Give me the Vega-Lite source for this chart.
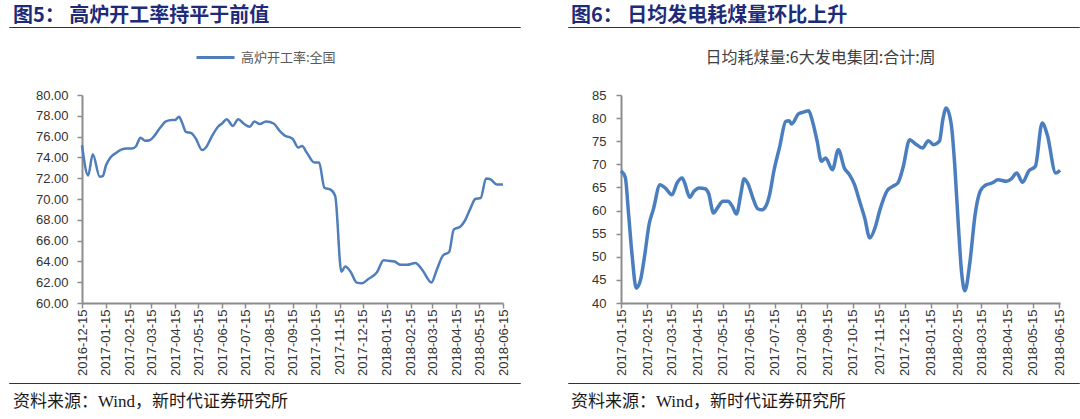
{
  "$schema": "https://vega.github.io/schema/vega-lite/v6.json",
  "padding": {"left": 8, "top": 5, "right": 0, "bottom": 0},
  "background": "white",
  "config": {
    "view": {"stroke": null},
    "font": "Noto Sans CJK SC",
    "axis": {"labelFont": "Liberation Sans", "labelFontSize": 13, "labelColor": "#333333", "domainColor": "#8c8c8c", "domainWidth": 2, "tickColor": "#8c8c8c", "tickWidth": 1.5, "tickSize": 5, "grid": false, "title": null}
  },
  "datasets": {
    "bf": [
      {"date": "2016-12-15", "value": 75.17}, {"date": "2016-12-23", "value": 72.27}, {"date": "2016-12-29", "value": 74.3},
      {"date": "2017-01-07", "value": 72.15}, {"date": "2017-01-11", "value": 72.2}, {"date": "2017-01-15", "value": 73.2},
      {"date": "2017-01-21", "value": 74.0}, {"date": "2017-01-27", "value": 74.37}, {"date": "2017-02-04", "value": 74.75},
      {"date": "2017-02-11", "value": 74.85}, {"date": "2017-02-18", "value": 74.85}, {"date": "2017-02-23", "value": 75.05},
      {"date": "2017-03-01", "value": 75.9}, {"date": "2017-03-07", "value": 75.6}, {"date": "2017-03-13", "value": 75.65},
      {"date": "2017-03-19", "value": 76.07}, {"date": "2017-03-27", "value": 76.9}, {"date": "2017-04-03", "value": 77.46},
      {"date": "2017-04-11", "value": 77.6}, {"date": "2017-04-15", "value": 77.6}, {"date": "2017-04-20", "value": 77.9},
      {"date": "2017-04-24", "value": 77.36}, {"date": "2017-04-29", "value": 76.45}, {"date": "2017-05-06", "value": 76.33},
      {"date": "2017-05-12", "value": 75.8}, {"date": "2017-05-20", "value": 74.7}, {"date": "2017-05-25", "value": 74.95},
      {"date": "2017-06-02", "value": 76.07}, {"date": "2017-06-10", "value": 76.97}, {"date": "2017-06-15", "value": 77.26},
      {"date": "2017-06-21", "value": 77.68}, {"date": "2017-06-29", "value": 77.03}, {"date": "2017-07-06", "value": 77.68},
      {"date": "2017-07-13", "value": 77.26}, {"date": "2017-07-21", "value": 76.94}, {"date": "2017-07-27", "value": 77.46},
      {"date": "2017-08-03", "value": 77.2}, {"date": "2017-08-11", "value": 77.46}, {"date": "2017-08-21", "value": 77.26},
      {"date": "2017-08-30", "value": 76.45}, {"date": "2017-09-05", "value": 76.07}, {"date": "2017-09-12", "value": 75.9},
      {"date": "2017-09-15", "value": 75.75}, {"date": "2017-09-22", "value": 74.95}, {"date": "2017-09-27", "value": 75.1},
      {"date": "2017-10-03", "value": 74.46}, {"date": "2017-10-13", "value": 73.5}, {"date": "2017-10-19", "value": 73.5},
      {"date": "2017-10-26", "value": 71.08}, {"date": "2017-11-03", "value": 70.9}, {"date": "2017-11-09", "value": 70.27},
      {"date": "2017-11-17", "value": 63.0}, {"date": "2017-11-22", "value": 63.5}, {"date": "2017-11-29", "value": 63.0},
      {"date": "2017-12-07", "value": 61.96}, {"date": "2017-12-14", "value": 61.9}, {"date": "2017-12-22", "value": 62.3},
      {"date": "2018-01-02", "value": 62.93}, {"date": "2018-01-11", "value": 64.1}, {"date": "2018-01-17", "value": 64.06},
      {"date": "2018-01-25", "value": 63.99}, {"date": "2018-02-02", "value": 63.67}, {"date": "2018-02-10", "value": 63.67},
      {"date": "2018-02-21", "value": 63.84}, {"date": "2018-03-02", "value": 63.2}, {"date": "2018-03-14", "value": 61.97},
      {"date": "2018-03-21", "value": 63.2}, {"date": "2018-03-29", "value": 64.57}, {"date": "2018-04-06", "value": 64.9},
      {"date": "2018-04-12", "value": 67.05}, {"date": "2018-04-21", "value": 67.37}, {"date": "2018-04-26", "value": 67.86},
      {"date": "2018-05-04", "value": 69.15}, {"date": "2018-05-10", "value": 70.0}, {"date": "2018-05-17", "value": 70.1},
      {"date": "2018-05-24", "value": 71.98}, {"date": "2018-05-30", "value": 71.88}, {"date": "2018-06-07", "value": 71.4},
      {"date": "2018-06-15", "value": 71.4}
    ],
    "coal": [
      {"date": "2017-01-15", "value": 68.6}, {"date": "2017-01-20", "value": 67.2}, {"date": "2017-01-24", "value": 59.1},
      {"date": "2017-01-28", "value": 50.45}, {"date": "2017-02-02", "value": 43.2}, {"date": "2017-02-07", "value": 45.0},
      {"date": "2017-02-12", "value": 50.45}, {"date": "2017-02-17", "value": 56.94}, {"date": "2017-02-22", "value": 60.2},
      {"date": "2017-03-02", "value": 65.6}, {"date": "2017-03-08", "value": 64.9}, {"date": "2017-03-16", "value": 63.4},
      {"date": "2017-03-22", "value": 65.96}, {"date": "2017-03-28", "value": 67.04}, {"date": "2017-03-31", "value": 65.96},
      {"date": "2017-04-06", "value": 62.87}, {"date": "2017-04-11", "value": 64.17}, {"date": "2017-04-17", "value": 64.88},
      {"date": "2017-04-24", "value": 64.73}, {"date": "2017-04-28", "value": 63.8}, {"date": "2017-05-04", "value": 59.47},
      {"date": "2017-05-09", "value": 60.7}, {"date": "2017-05-15", "value": 62.0}, {"date": "2017-05-21", "value": 62.0},
      {"date": "2017-05-26", "value": 60.92}, {"date": "2017-05-31", "value": 59.25}, {"date": "2017-06-05", "value": 63.43},
      {"date": "2017-06-09", "value": 66.9}, {"date": "2017-06-14", "value": 65.6}, {"date": "2017-06-20", "value": 62.35},
      {"date": "2017-06-25", "value": 60.4}, {"date": "2017-06-30", "value": 60.18}, {"date": "2017-07-05", "value": 61.1},
      {"date": "2017-07-09", "value": 63.43}, {"date": "2017-07-14", "value": 68.5}, {"date": "2017-07-21", "value": 73.9},
      {"date": "2017-07-28", "value": 79.3}, {"date": "2017-08-01", "value": 79.44}, {"date": "2017-08-04", "value": 78.73},
      {"date": "2017-08-12", "value": 80.9}, {"date": "2017-08-18", "value": 81.3}, {"date": "2017-08-24", "value": 81.6},
      {"date": "2017-08-28", "value": 79.66}, {"date": "2017-09-03", "value": 75.0}, {"date": "2017-09-08", "value": 70.65},
      {"date": "2017-09-13", "value": 71.37}, {"date": "2017-09-21", "value": 68.84}, {"date": "2017-09-28", "value": 73.17},
      {"date": "2017-10-05", "value": 69.2}, {"date": "2017-10-11", "value": 67.76}, {"date": "2017-10-17", "value": 65.6},
      {"date": "2017-10-23", "value": 62.0}, {"date": "2017-10-29", "value": 58.4}, {"date": "2017-11-04", "value": 54.06},
      {"date": "2017-11-10", "value": 56.2}, {"date": "2017-11-16", "value": 60.2}, {"date": "2017-11-24", "value": 64.17},
      {"date": "2017-12-01", "value": 65.25}, {"date": "2017-12-07", "value": 65.96}, {"date": "2017-12-13", "value": 69.2},
      {"date": "2017-12-21", "value": 75.33}, {"date": "2017-12-28", "value": 74.4}, {"date": "2018-01-05", "value": 73.53},
      {"date": "2018-01-12", "value": 75.1}, {"date": "2018-01-18", "value": 74.25}, {"date": "2018-01-25", "value": 75.0},
      {"date": "2018-01-29", "value": 79.66}, {"date": "2018-02-02", "value": 82.19}, {"date": "2018-02-08", "value": 78.57},
      {"date": "2018-02-12", "value": 69.92}, {"date": "2018-02-16", "value": 57.67}, {"date": "2018-02-20", "value": 46.85},
      {"date": "2018-02-24", "value": 42.66}, {"date": "2018-03-02", "value": 49.0}, {"date": "2018-03-08", "value": 59.1},
      {"date": "2018-03-14", "value": 64.17}, {"date": "2018-03-20", "value": 65.46}, {"date": "2018-03-28", "value": 65.96},
      {"date": "2018-04-04", "value": 66.67}, {"date": "2018-04-14", "value": 66.33}, {"date": "2018-04-20", "value": 66.9},
      {"date": "2018-04-26", "value": 68.1}, {"date": "2018-05-03", "value": 66.1}, {"date": "2018-05-10", "value": 68.5},
      {"date": "2018-05-18", "value": 69.57}, {"date": "2018-05-26", "value": 78.94}, {"date": "2018-06-01", "value": 76.4},
      {"date": "2018-06-11", "value": 68.1}, {"date": "2018-06-16", "value": 68.7}
    ]
  },
  "spacing": 4,
  "resolve": {"scale": {"color": "independent"}, "legend": {"color": "independent"}},
  "vconcat": [
    {
      "spacing": 46,
      "hconcat": [
        {
          "width": 511, "height": 0.01,
          "view": {"stroke": "#333333", "strokeWidth": 1},
          "title": {"text": "图5： 高炉开工率持平于前值", "anchor": "start", "orient": "top", "offset": -5, "dx": 4, "fontSize": 20, "fontWeight": "bold", "color": "#1E2B78", "font": "Noto Sans CJK SC"},
          "data": {"values": [{}]},
          "mark": {"type": "text"},
          "encoding": {"text": {"value": ""}}
        },
        {
          "width": 511, "height": 0.01,
          "view": {"stroke": "#333333", "strokeWidth": 1},
          "title": {"text": "图6： 日均发电耗煤量环比上升", "anchor": "start", "orient": "top", "offset": -5, "dx": 3, "fontSize": 20, "fontWeight": "bold", "color": "#1E2B78", "font": "Noto Sans CJK SC"},
          "data": {"values": [{}]},
          "mark": {"type": "text"},
          "encoding": {"text": {"value": ""}}
        }
      ]
    },
    {
      "spacing": 0,
      "resolve": {"scale": {"color": "independent"}, "legend": {"color": "independent"}},
      "vconcat": [
        {
          "spacing": 80,
          "resolve": {"scale": {"color": "independent"}, "legend": {"color": "independent"}},
          "hconcat": [
            {
              "width": 494, "height": 208,
              "data": {"name": "bf"},
              "mark": {"type": "line", "interpolate": "monotone", "strokeWidth": 2.5},
              "encoding": {
                "x": {
                  "field": "date", "type": "temporal",
                  "scale": {"type": "utc", "nice": false, "range": [73, 494], "domain": [{"year": 2016, "month": 12, "date": 15, "utc": true}, {"year": 2018, "month": 6, "date": 15, "utc": true}]},
                  "axis": {
                    "format": "%Y-%m-%d", "labelAngle": -90, "labelPadding": 1,
                    "values": [
                      {"year": 2016, "month": 12, "date": 15, "utc": true},
                      {"year": 2017, "month": 1, "date": 15, "utc": true}, {"year": 2017, "month": 2, "date": 15, "utc": true},
                      {"year": 2017, "month": 3, "date": 15, "utc": true}, {"year": 2017, "month": 4, "date": 15, "utc": true},
                      {"year": 2017, "month": 5, "date": 15, "utc": true}, {"year": 2017, "month": 6, "date": 15, "utc": true},
                      {"year": 2017, "month": 7, "date": 15, "utc": true}, {"year": 2017, "month": 8, "date": 15, "utc": true},
                      {"year": 2017, "month": 9, "date": 15, "utc": true}, {"year": 2017, "month": 10, "date": 15, "utc": true},
                      {"year": 2017, "month": 11, "date": 15, "utc": true}, {"year": 2017, "month": 12, "date": 15, "utc": true},
                      {"year": 2018, "month": 1, "date": 15, "utc": true}, {"year": 2018, "month": 2, "date": 15, "utc": true},
                      {"year": 2018, "month": 3, "date": 15, "utc": true}, {"year": 2018, "month": 4, "date": 15, "utc": true},
                      {"year": 2018, "month": 5, "date": 15, "utc": true}, {"year": 2018, "month": 6, "date": 15, "utc": true}
                    ]
                  }
                },
                "y": {
                  "field": "value", "type": "quantitative",
                  "scale": {"domain": [60, 80], "nice": false, "zero": false},
                  "axis": {"values": [60, 62, 64, 66, 68, 70, 72, 74, 76, 78, 80], "format": ".2f", "labelPadding": 9, "offset": -73}
                },
                "color": {
                  "datum": "高炉开工率:全国", "type": "nominal",
                  "scale": {"range": ["#4F7EBA"]},
                  "legend": {"orient": "none", "legendX": 186, "legendY": -58, "title": null, "symbolType": "stroke", "symbolSize": 1444, "symbolStrokeWidth": 3, "labelFontSize": 13, "labelColor": "#595959", "labelOffset": 5, "labelFont": "Noto Sans CJK SC"}
                }
              }
            },
            {
              "width": 439, "height": 208,
              "title": {"text": "日均耗煤量:6大发电集团:合计:周", "anchor": "middle", "dx": -20, "offset": 23, "fontSize": 16, "fontWeight": "normal", "color": "#404040", "font": "Noto Sans CJK SC"},
              "data": {"name": "coal"},
              "mark": {"type": "line", "interpolate": "monotone", "strokeWidth": 3.5, "color": "#4A7EBF"},
              "encoding": {
                "x": {
                  "field": "date", "type": "temporal",
                  "scale": {"type": "utc", "nice": false, "domain": [{"year": 2017, "month": 1, "date": 15, "utc": true}, {"year": 2018, "month": 6, "date": 16, "utc": true}]},
                  "axis": {
                    "format": "%Y-%m-%d", "labelAngle": -90, "labelPadding": 1,
                    "values": [
                      {"year": 2017, "month": 1, "date": 15, "utc": true}, {"year": 2017, "month": 2, "date": 15, "utc": true},
                      {"year": 2017, "month": 3, "date": 15, "utc": true}, {"year": 2017, "month": 4, "date": 15, "utc": true},
                      {"year": 2017, "month": 5, "date": 15, "utc": true}, {"year": 2017, "month": 6, "date": 15, "utc": true},
                      {"year": 2017, "month": 7, "date": 15, "utc": true}, {"year": 2017, "month": 8, "date": 15, "utc": true},
                      {"year": 2017, "month": 9, "date": 15, "utc": true}, {"year": 2017, "month": 10, "date": 15, "utc": true},
                      {"year": 2017, "month": 11, "date": 15, "utc": true}, {"year": 2017, "month": 12, "date": 15, "utc": true},
                      {"year": 2018, "month": 1, "date": 15, "utc": true}, {"year": 2018, "month": 2, "date": 15, "utc": true},
                      {"year": 2018, "month": 3, "date": 15, "utc": true}, {"year": 2018, "month": 4, "date": 15, "utc": true},
                      {"year": 2018, "month": 5, "date": 15, "utc": true}, {"year": 2018, "month": 6, "date": 15, "utc": true}
                    ]
                  }
                },
                "y": {
                  "field": "value", "type": "quantitative",
                  "scale": {"domain": [40, 85], "nice": false, "zero": false},
                  "axis": {"values": [40, 45, 50, 55, 60, 65, 70, 75, 80, 85], "format": "d", "labelPadding": 10, "minExtent": 30, "maxExtent": 30}
                }
              }
            }
          ]
        },
        {
          "spacing": 46,
          "hconcat": [
            {
              "width": 511, "height": 0.01,
              "view": {"stroke": "#333333", "strokeWidth": 1},
              "title": {"text": "资料来源：Wind，新时代证券研究所", "anchor": "start", "orient": "bottom", "offset": 6, "dx": 4, "fontSize": 17, "fontWeight": "normal", "color": "#1a1a1a", "font": "Liberation Serif, Noto Sans CJK SC"},
              "data": {"values": [{}]},
              "mark": {"type": "text"},
              "encoding": {"text": {"value": ""}}
            },
            {
              "width": 511, "height": 0.01,
              "view": {"stroke": "#333333", "strokeWidth": 1},
              "title": {"text": "资料来源：Wind，新时代证券研究所", "anchor": "start", "orient": "bottom", "offset": 6, "dx": 3, "fontSize": 17, "fontWeight": "normal", "color": "#1a1a1a", "font": "Liberation Serif, Noto Sans CJK SC"},
              "data": {"values": [{}]},
              "mark": {"type": "text"},
              "encoding": {"text": {"value": ""}}
            }
          ]
        }
      ]
    }
  ]
}
